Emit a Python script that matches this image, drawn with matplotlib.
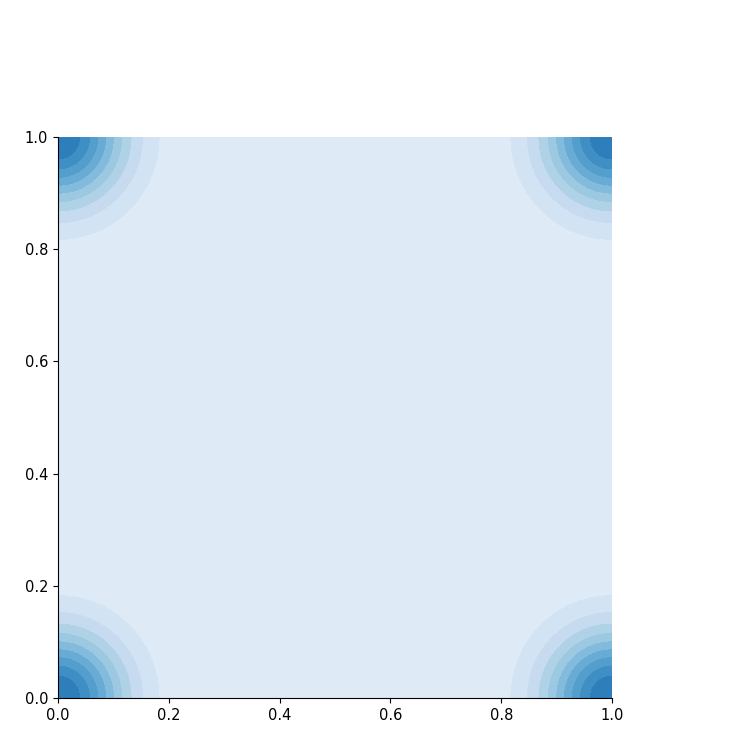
import matplotlib
matplotlib.use("Agg")
import matplotlib.pyplot as plt
import matplotlib.colors as mcolors
import numpy as np

# data: sample points at the four corners
px = np.array([0.0, 1.0, 0.0, 1.0])
py = np.array([0.0, 0.0, 1.0, 1.0])
ticks = [0.0, 0.2, 0.4, 0.6, 0.8, 1.0]

bw = 0.085
gx, gy = np.meshgrid(np.linspace(0, 1, 400), np.linspace(0, 1, 400))
dens = np.zeros_like(gx)
for x0, y0 in zip(px, py):
    dens += np.exp(-((gx - x0) ** 2 + (gy - y0) ** 2) / (2 * bw ** 2))
dens /= len(px) * 2 * np.pi * bw ** 2

levels = np.linspace(0, dens.max(), 11)
cmap = mcolors.ListedColormap(plt.cm.Blues(np.linspace(0.125, 0.7, 10)))

fig = plt.figure(figsize=(7.47, 7.47), dpi=100)
ax = fig.add_axes([58 / 747, 49 / 747, 554 / 747, 561 / 747])
ax.contourf(gx, gy, dens, levels=levels, cmap=cmap)
ax.set_xlim(0, 1)
ax.set_ylim(0, 1)
ax.set_xticks(ticks)
ax.set_yticks(ticks)
ax.tick_params(labelsize=10.5)
ax.spines["top"].set_visible(False)
ax.spines["right"].set_visible(False)

fig.savefig("out.png", dpi=100)
